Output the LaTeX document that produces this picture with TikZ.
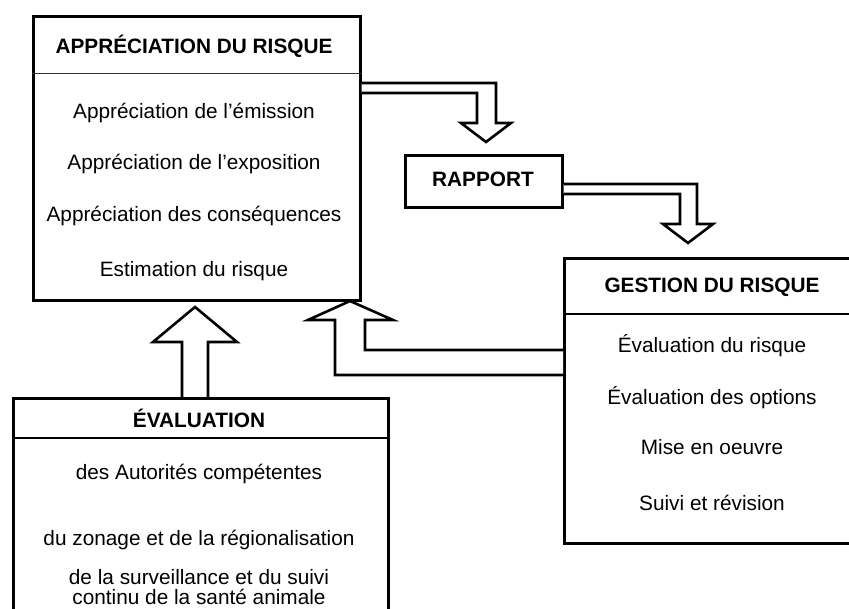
\documentclass[tikz,border=0pt]{standalone}
\usepackage{fontspec}
\setmainfont{Liberation Sans}
\usetikzlibrary{calc}
\begin{document}
\begin{tikzpicture}[x=1pt,y=-1pt,
  box/.style={draw, line width=2.6pt, fill=white, inner sep=0pt, anchor=north west},
  txt/.style={font=\fontsize{20.8}{21}\selectfont, anchor=base, inner sep=0pt},
  ttl/.style={anchor=base, inner sep=0pt, font=\fontsize{20.8}{21}\selectfont\bfseries},
  barrow/.style={draw, line width=2.6pt, fill=white, line join=miter}]
\useasboundingbox (0,0) rectangle (849,609);
\clip (0,0) rectangle (849,609);
% boxes
\node[box, minimum width=327pt, minimum height=284pt] (app) at (32,15) {};
\node[box, minimum width=157pt, minimum height=52pt] (rap) at (404,154) {};
\node[box, minimum width=300pt, minimum height=285pt] (ges) at (563,257) {};
\node[box, minimum width=375pt, minimum height=240pt] (eva) at (12,397) {};
% block arrows
\draw[barrow] (app.east |- 0,83) -- (496,83) -- (496,123) -- (511,123) -- (486,142)
  -- (461,123) -- (477,123) -- (477,93) -- (app.east |- 0,93);
\draw[barrow] (rap.east |- 0,184) -- (697,184) -- (697,224) -- (713,224) -- (688,243)
  -- (663,224) -- (680,224) -- (680,194) -- (rap.east |- 0,194);
\draw[barrow] (ges.west |- 0,350) -- (365,350) -- (365,320) -- (393,320) -- (350,301)
  -- (308,320) -- (335,320) -- (335,375) -- (ges.west |- 0,375);
\draw[barrow] (182,0 |- eva.north) -- (182,342) -- (153,342) -- (195,307) -- (237,342)
  -- (208,342) -- (208,0 |- eva.north);
% dividers
\draw[line width=1pt, black!80] (app.west |- 0,74) -- (app.east |- 0,74);
\draw[line width=2.6pt] (ges.west |- 0,314) -- (ges.east |- 0,314);
\draw[line width=1.6pt] (eva.west |- 0,438) -- (eva.east |- 0,438);
% texts
\node[ttl] (appT) at (194,54) {APPRÉCIATION DU RISQUE};
\node[txt] (app1) at (194,119) {Appréciation de l’émission};
\node[txt] (app2) at (194,170) {Appréciation de l’exposition};
\node[txt] (app3) at (194,222) {Appréciation des conséquences};
\node[txt] (app4) at (194,277) {Estimation du risque};
\node[ttl] (rapT) at (483,187) {RAPPORT};
\node[ttl] (gesT) at (712,293) {GESTION DU RISQUE};
\node[txt] (ges1) at (712,353) {Évaluation du risque};
\node[txt] (ges2) at (712,405) {Évaluation des options};
\node[txt] (ges3) at (712,455) {Mise en oeuvre};
\node[txt] (ges4) at (712,510) {Suivi et révision};
\node[ttl] (evaT) at (199,428) {ÉVALUATION};
\node[txt] (eva1) at (199,479) {des Autorités compétentes};
\node[txt] (eva2) at (199,545) {du zonage et de la régionalisation};
\node[txt] (eva3) at (199,584) {de la surveillance et du suivi};
\node[txt] (eva4) at (199,604) {continu de la santé animale};
\end{tikzpicture}
\end{document}
